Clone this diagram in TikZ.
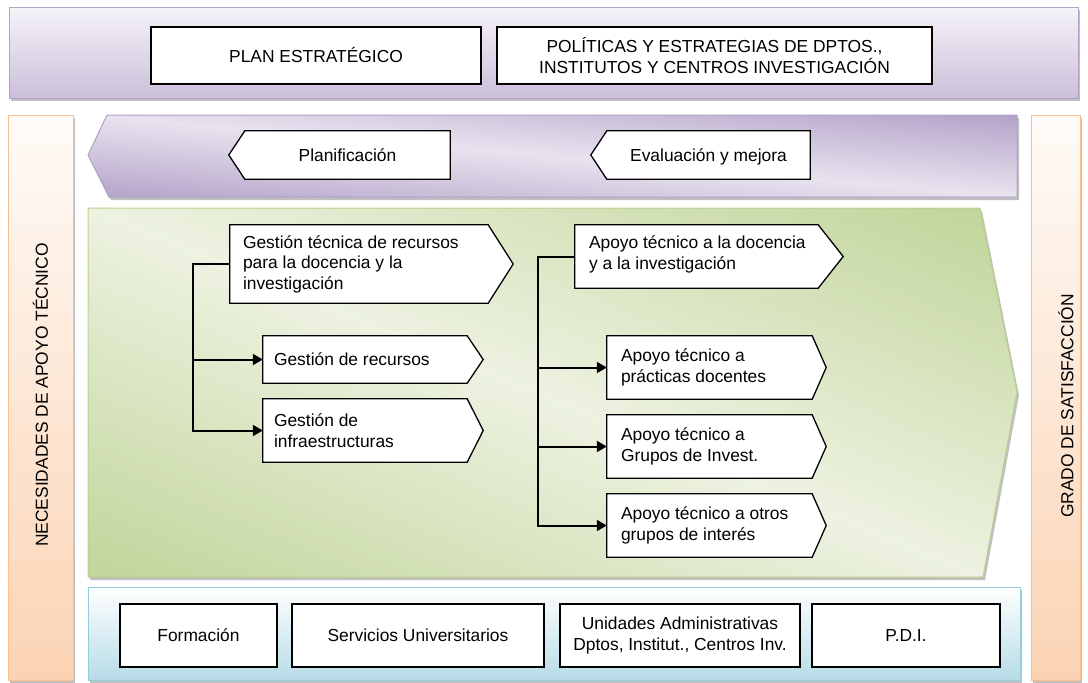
\documentclass[tikz,border=0pt]{standalone}
\usepackage{fontspec}
\setmainfont{Liberation Sans}
\usetikzlibrary{arrows.meta,calc,shadows}
\pgfdeclarelayer{back}
\pgfdeclarelayer{mid}
\pgfsetlayers{back,mid,main}
\definecolor{topL}{HTML}{F6F3F9}
\definecolor{topD}{HTML}{CBBFDA}
\definecolor{purBorder}{HTML}{B3A2C7}
\definecolor{pDark}{HTML}{B4A3C9}
\definecolor{pLight}{HTML}{E8E3EF}
\definecolor{gDark}{HTML}{C0D498}
\definecolor{gLight}{HTML}{EDF2E1}
\definecolor{gBorder}{HTML}{B9CF8E}
\definecolor{oLight}{HTML}{FFFBF8}
\definecolor{oDark}{HTML}{FBD3B3}
\definecolor{oBorder}{HTML}{F9BF8E}
\definecolor{bLight}{HTML}{FFFFFF}
\definecolor{bDark}{HTML}{B6DCE7}
\definecolor{bBorder}{HTML}{92CDDC}
\pgfdeclarehorizontalshading{greensh}{100bp}{color(0bp)=(gDark); color(25bp)=(gDark); color(50bp)=(gLight); color(75bp)=(gDark); color(100bp)=(gDark)}
\pgfdeclarehorizontalshading{purplesh}{100bp}{color(0bp)=(pDark); color(25bp)=(pDark); color(50bp)=(pLight); color(75bp)=(pDark); color(100bp)=(pDark)}
\newcommand\pentR[2]{\begin{pgfonlayer}{mid}\draw[boxline] (#1.north west) -- (#1.north east) -- ($(#1.east)+(#2,0)$) -- (#1.south east) -- (#1.south west) -- cycle;\end{pgfonlayer}}
\newcommand\pentL[2]{\begin{pgfonlayer}{mid}\draw[boxline] (#1.north east) -- (#1.north west) -- ($(#1.west)+(-#2,0)$) -- (#1.south west) -- (#1.south east) -- cycle;\end{pgfonlayer}}
\tikzset{
  boxline/.style={draw=black, line width=1.3pt, fill=white, line join=miter},
  rbox/.style={draw=black, line width=1.3pt, fill=white, align=center, inner sep=0pt},
  pbox/.style={rectangle, inner sep=0pt},
  ptext/.style={inner sep=0pt, align=left, anchor=west},
  ctext/.style={inner sep=0pt, align=center},
  conn/.style={line width=2pt, line join=miter},
  arr/.style={conn, -{Triangle[length=10pt,width=11pt]}},
  shad/.style={drop shadow={shadow xshift=2pt, shadow yshift=-3pt, opacity=0.35, fill=black!70}},
}
\begin{document}
\begin{tikzpicture}[x=1pt, y=-1pt, font=\fontsize{17.4}{20.5}\selectfont]
\useasboundingbox (0,0) rectangle (1088,683);
\begin{pgfonlayer}{back}
\fill[white] (0,0) rectangle (1088,683);
% side columns
\path[shad, draw=oBorder, line width=1pt, top color=oLight, bottom color=oDark] (8,115) rectangle (73,680);
\path[shad, draw=oBorder, line width=1pt, top color=oLight, bottom color=oDark] (1031,115) rectangle (1080,680);
% top band
\path[shad, draw=purBorder, line width=1pt, top color=topL, bottom color=topD] (9,7) rectangle (1078,98);
% purple arrow band
\path[shad, fill=pDark] (88,155) -- (107,115) -- (1017,115) -- (1017,197) -- (109,197) -- cycle;
\begin{scope}
  \clip (88,155) -- (107,115) -- (1017,115) -- (1017,197) -- (109,197) -- cycle;
  \begin{scope}[transform canvas={rotate around={85:(552,156)}}]
    \shade[shading=purplesh] (471,-500) rectangle (633,812);
  \end{scope}
\end{scope}
\draw[purBorder, line width=1pt] (88,155) -- (107,115) -- (1017,115) -- (1017,197) -- (109,197) -- cycle;
% green band
\path[shad, fill=gDark] (88,208) -- (980,208) -- (1017,392) -- (983,577) -- (88,577) -- cycle;
\begin{scope}
  \clip (88,208) -- (980,208) -- (1017,392) -- (983,577) -- (88,577) -- cycle;
  \begin{scope}[transform canvas={rotate around={67.6:(535,392)}}]
    \shade[shading=greensh] (185,-300) rectangle (885,1084);
  \end{scope}
\end{scope}
\draw[gBorder, line width=1pt] (88,208) -- (980,208) -- (1017,392) -- (983,577) -- (88,577) -- cycle;
% blue band
\path[shad, draw=bBorder, line width=1pt, top color=bLight, bottom color=bDark] (88,587) rectangle (1020,680);
\end{pgfonlayer}

% side labels
\node[ctext, rotate=90] (nec) at (40.5,395) {NECESIDADES DE APOYO TÉCNICO};
\node[ctext, rotate=90] (gra) at (1066,406) {GRADO DE SATISFACCIÓN};

% top boxes
\node[rbox, minimum width=330pt, minimum height=57pt] (plan) at (316,55.5) {PLAN ESTRATÉGICO};
\node[rbox, minimum width=435pt, minimum height=57pt] (pol) at (714.5,55.5) {POLÍTICAS Y ESTRATEGIAS DE DPTOS.,\\INSTITUTOS Y CENTROS INVESTIGACIÓN};

% planning boxes
\node[ctext, text height=12.6pt, text depth=0pt, minimum width=205pt, minimum height=48pt] (planif) at (347.5,155) {Planificación};
\pentL{planif}{16}
\node[ctext, text height=12.6pt, text depth=0pt, minimum width=203pt, minimum height=48pt] (eval) at (708.5,155) {Evaluación y mejora};
\pentL{eval}{16}

% left group
\node[pbox, minimum width=258pt, minimum height=78pt] (g1) at (359,264) {};
\pentR{g1}{25}
\node[ptext] (g1t) at ($(g1.west)+(13,0)$) {Gestión técnica de recursos\\para la docencia y la\\investigación};
\node[pbox, minimum width=204pt, minimum height=47pt] (g2) at (365,359.5) {};
\pentR{g2}{16}
\node[ptext] (g2t) at ($(g2.west)+(11,0)$) {Gestión de recursos};
\node[pbox, minimum width=204pt, minimum height=63pt] (g3) at (365,430.5) {};
\pentR{g3}{16}
\node[ptext] (g3t) at ($(g3.west)+(11,0)$) {Gestión de\\infraestructuras};

% right group
\node[pbox, minimum width=243pt, minimum height=63pt] (a1) at (696.5,256.5) {};
\pentR{a1}{25}
\node[ptext] (a1t) at ($(a1.west)+(14,-2)$) {Apoyo técnico a la docencia\\y a la investigación};
\node[pbox, minimum width=205pt, minimum height=63pt] (a2) at (709.5,367.5) {};
\pentR{a2}{14}
\node[ptext] (a2t) at ($(a2.west)+(14,0)$) {Apoyo técnico a\\prácticas docentes};
\node[pbox, minimum width=205pt, minimum height=63pt] (a3) at (709.5,446.5) {};
\pentR{a3}{14}
\node[ptext] (a3t) at ($(a3.west)+(14,0)$) {Apoyo técnico a\\Grupos de Invest.};
\node[pbox, minimum width=205pt, minimum height=63pt] (a4) at (709.5,525.5) {};
\pentR{a4}{14}
\node[ptext] (a4t) at ($(a4.west)+(14,0)$) {Apoyo técnico a otros\\grupos de interés};

% connectors
\coordinate (j1) at ($(g1.west)+(-37,0)$);
\draw[arr] (g1.west) -- (j1) -- (j1 |- g3.west) -- (g3.west);
\draw[arr] (j1 |- g2.west) -- (g2.west);
\coordinate (j2) at ($(a1.west)+(-37,0)$);
\draw[arr] (a1.west) -- (j2) -- (j2 |- a4.west) -- (a4.west);
\draw[arr] (j2 |- a2.west) -- (a2.west);
\draw[arr] (j2 |- a3.west) -- (a3.west);

% bottom boxes
\node[rbox, minimum width=157pt, minimum height=63pt] (f1) at (198.5,635.5) {Formación};
\node[rbox, minimum width=252pt, minimum height=63pt] (f2) at (418,635.5) {Servicios Universitarios};
\node[rbox, minimum width=240pt, minimum height=63pt] (f3) at (680,635.5) {Unidades Administrativas\\Dptos, Institut., Centros Inv.};
\node[rbox, minimum width=188pt, minimum height=63pt] (f4) at (906,635.5) {P.D.I.};
\end{tikzpicture}
\end{document}
